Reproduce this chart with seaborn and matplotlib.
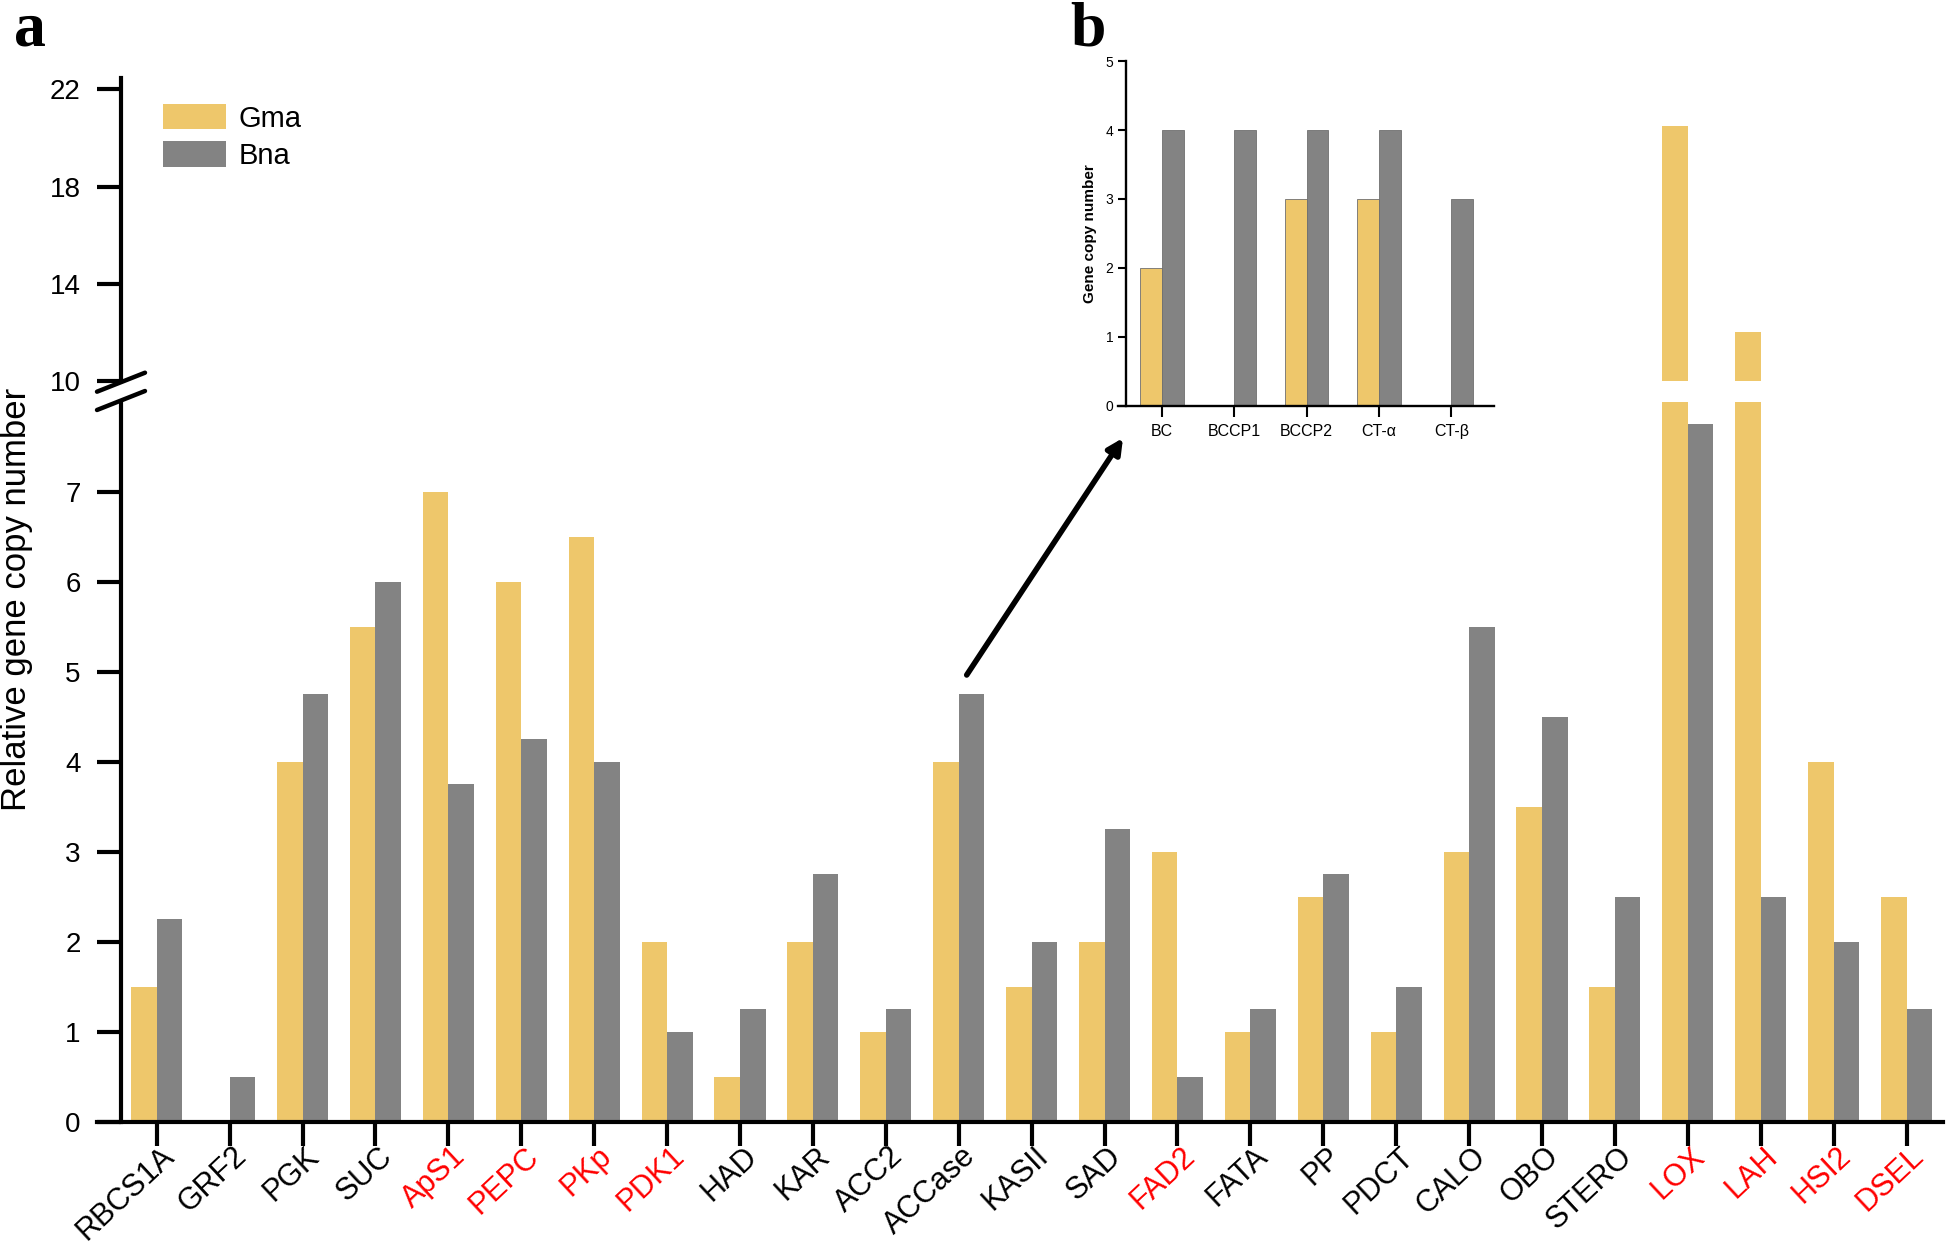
import pandas as pd
import matplotlib.pyplot as plt
import seaborn as sns
from matplotlib.lines import Line2D
from matplotlib.transforms import ScaledTranslation

# main panel (a)
genes = ['RBCS1A', 'GRF2', 'PGK', 'SUC', 'ApS1', 'PEPC', 'PKp', 'PDK1', 'HAD', 'KAR',
         'ACC2', 'ACCase', 'KASII', 'SAD', 'FAD2', 'FATA', 'PP', 'PDCT', 'CALO', 'OBO',
         'STERO', 'LOX', 'LAH', 'HSI2', 'DSEL']
gma = [1.5, 0, 4, 5.5, 7, 6, 6.5, 2, 0.5, 2, 1, 4, 1.5, 2, 3, 1, 2.5, 1, 3, 3.5,
       1.5, 20.5, 12, 4, 2.5]
bna = [2.25, 0.5, 4.75, 6, 3.75, 4.25, 4, 1, 1.25, 2.75, 1.25, 4.75, 2, 3.25, 0.5,
       1.25, 2.75, 1.5, 5.5, 4.5, 2.5, 7.75, 2.5, 2, 1.25]
red_genes = ['ApS1', 'PEPC', 'PKp', 'PDK1', 'FAD2', 'LOX', 'LAH', 'HSI2', 'DSEL']

# inset panel (b)
sub_genes = ['BC', 'BCCP1', 'BCCP2', 'CT-α', 'CT-β']
sub_gma = [2, 0, 3, 3, 0]
sub_bna = [4, 4, 4, 4, 3]

species = ['Gma', 'Bna']
palette = {'Gma': '#EEC76B', 'Bna': '#838383'}

df = pd.DataFrame({
    'gene': genes * 2,
    'species': ['Gma'] * len(genes) + ['Bna'] * len(genes),
    'copies': gma + bna,
})
df_sub = pd.DataFrame({
    'gene': sub_genes * 2,
    'species': ['Gma'] * len(sub_genes) + ['Bna'] * len(sub_genes),
    'copies': sub_gma + sub_bna,
})

sns.set_style('ticks')
plt.rcParams['font.family'] = ['Liberation Sans', 'DejaVu Sans']
plt.rcParams.update({'text.color': 'black', 'axes.labelcolor': 'black',
                     'xtick.color': 'black', 'ytick.color': 'black',
                     'axes.edgecolor': 'black'})

W, H = 1946, 1246
fig = plt.figure(figsize=(W / 100, H / 100), dpi=100)


def fx(px):
    return px / W


def fy(py):
    return 1 - py / H


left, right = 96.7, 1943
ax_low = fig.add_axes([fx(left), fy(1121.7), (right - left) / W, (1121.7 - 401.7) / H])
ax_up = fig.add_axes([fx(left), fy(380.7), (right - left) / W, (380.7 - 78) / H])
ax_in = fig.add_axes([fx(1118), fy(405.7), (1494 - 1118) / W, (405.7 - 61.2) / H])

for ax in (ax_low, ax_up):
    sns.barplot(data=df, x='gene', y='copies', hue='species', order=genes,
                hue_order=species, palette=palette, width=0.7, saturation=1,
                linewidth=0, legend=False, ax=ax)
    ax.set_xlim(-0.823, 24.5)
    ax.set_xlabel('')
    ax.set_ylabel('')
    for s in ['top', 'right']:
        ax.spines[s].set_visible(False)
    ax.spines['left'].set_position(('data', -0.49))
    ax.spines['left'].set_linewidth(3)
    ax.spines['bottom'].set_linewidth(3)
    ax.tick_params(axis='y', length=17, width=3, labelsize=20, pad=12)

ax_low.set_ylim(0, 8)
ax_low.set_yticks(range(0, 8))
ax_low.tick_params(axis='x', length=17, width=3, pad=5)
ax_low.set_xticks(range(len(genes)))
ax_low.set_xticklabels(genes, rotation=43, ha='right', va='center',
                       rotation_mode='anchor', fontsize=22)
shift = ScaledTranslation(0.13, 0, fig.dpi_scale_trans)
for lbl in ax_low.get_xticklabels():
    lbl.set_transform(lbl.get_transform() + shift)
    if lbl.get_text() in red_genes:
        lbl.set_color('red')

ax_up.set_ylim(10, 22.47)
ax_up.set_yticks([10, 14, 18, 22])
ax_up.spines['bottom'].set_visible(False)
ax_up.tick_params(axis='x', bottom=False, labelbottom=False)

# axis break marks
for y0, y1 in [(391.7, 372.7), (410, 391)]:
    fig.add_artist(Line2D([fx(97), fx(145)], [fy(y0), fy(y1)],
                          transform=fig.transFigure, color='black', lw=3.2))

fig.text(fx(17), fy(599), 'Relative gene copy number', rotation=90,
         ha='center', va='center', fontsize=25)

# legend
handles = [plt.Rectangle((0, 0), 1, 1, facecolor=palette[s], edgecolor='none') for s in species]
fig.legend(handles, species, loc='upper left', bbox_to_anchor=(fx(163), fy(104)),
           bbox_transform=fig.transFigure, frameon=False, fontsize=21,
           handlelength=2.15, handleheight=0.95, handletextpad=0.45,
           labelspacing=0.3, borderpad=0, borderaxespad=0)

# inset panel
sns.barplot(data=df_sub, x='gene', y='copies', hue='species', order=sub_genes,
            hue_order=species, palette=palette, width=0.6, saturation=1,
            edgecolor='#6f6f6f', linewidth=0.6, legend=False, ax=ax_in)
ax_in.set_xlim(-0.61, 4.59)
ax_in.set_ylim(0, 5)
ax_in.set_yticks(range(0, 6))
ax_in.set_xlabel('')
ax_in.set_ylabel('Gene copy number', fontsize=11, fontweight='bold', labelpad=6)
for s in ['top', 'right']:
    ax_in.spines[s].set_visible(False)
ax_in.spines['left'].set_position(('data', -0.5))
ax_in.spines['left'].set_linewidth(1.7)
ax_in.spines['bottom'].set_linewidth(1.7)
ax_in.tick_params(axis='y', length=6, width=1.5, labelsize=10, pad=3)
ax_in.tick_params(axis='x', length=8, width=1.5, labelsize=11.5, pad=5)

# arrow from ACCase to inset
fig.add_artist(plt.Annotation('', xy=(fx(1123), fy(438)), xytext=(fx(966.7), fy(675)),
                              xycoords='figure fraction', textcoords='figure fraction',
                              arrowprops=dict(arrowstyle='-|>,head_length=0.9,head_width=0.45',
                                              color='black', lw=4, shrinkA=0, shrinkB=0)))

# panel letters
fig.text(fx(14), fy(45), 'a', fontsize=46, fontweight='bold',
         family='Liberation Serif', ha='left', va='baseline')
fig.text(fx(1070), fy(45), 'b', fontsize=46, fontweight='bold',
         family='Liberation Serif', ha='left', va='baseline')

fig.savefig('out.png', dpi=100)
